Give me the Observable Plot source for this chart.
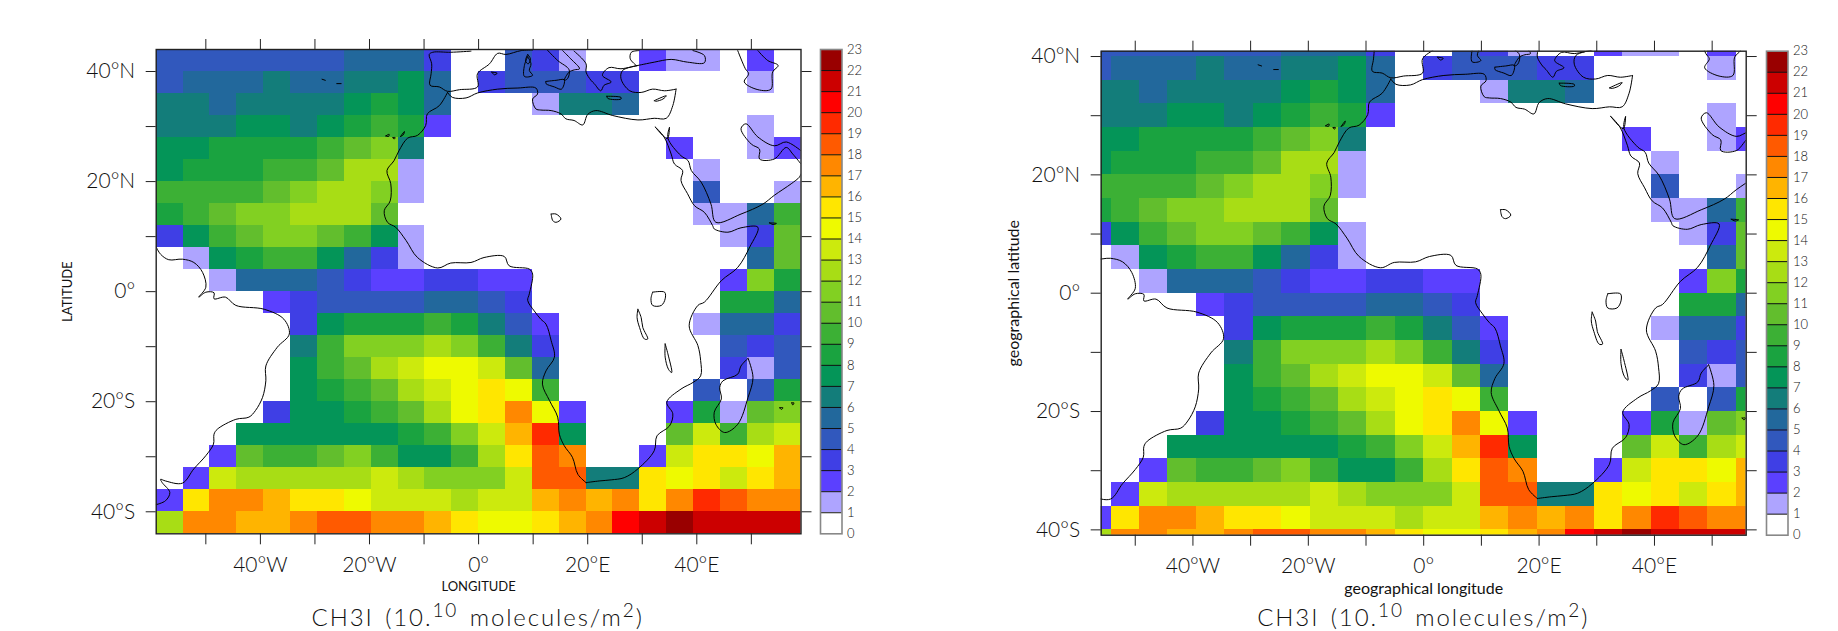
<!DOCTYPE html>
<html><head><meta charset="utf-8">
<script src="https://cdn.jsdelivr.net/npm/d3@7"></script>
<script src="https://cdn.jsdelivr.net/npm/@observablehq/plot@0.6"></script>
<style>
html,body{margin:0;padding:0;background:#fff;overflow:hidden}
#wrap{position:relative;width:1838px;height:631px;overflow:hidden}
#wrap svg{position:absolute;top:0}
.title{position:absolute;top:607px;font:300 24px Lato,sans-serif;color:#111;letter-spacing:1.9px;word-spacing:3px;white-space:nowrap;transform:translateX(-50%);line-height:20px}
.title sup{font-size:19px;line-height:0;vertical-align:9px}
</style></head><body><div id="wrap"></div>
<script>
// Colour band index (lower bound of the legend band) per grid cell, north to south, west to east
const row42N=[4,4,4,4,4,4,4,5,5,5,3,0,0,4,3,1,0,0,2,1,1,0,2,0];
const row38N=[4,5,5,5,6,5,5,6,6,7,5,0,3,4,4,4,3,3,0,0,0,0,1,0];
const row34N=[6,6,5,6,6,6,6,7,8,7,5,0,0,0,1,6,6,5,0,0,0,0,0,0];
const row30N=[6,6,6,7,7,6,7,8,9,8,2,0,0,0,0,0,0,0,0,0,0,0,1,0];
const row26N=[7,7,8,8,8,8,9,10,11,6,0,0,0,0,0,0,0,0,0,2,0,0,1,2];
const row22N=[7,8,8,8,9,9,10,12,12,1,0,0,0,0,0,0,0,0,0,0,1,0,0,0];
const row18N=[9,9,9,9,10,11,12,12,11,1,0,0,0,0,0,0,0,0,0,0,4,0,0,1];
const row14N=[8,9,10,11,11,12,12,12,10,0,0,0,0,0,0,0,0,0,0,0,1,1,5,9];
const row10N=[3,7,9,10,11,11,10,9,7,1,0,0,0,0,0,0,0,0,0,0,0,1,3,10];
const row6N=[0,1,7,8,9,9,7,5,3,1,0,0,0,0,0,0,0,0,0,0,0,0,5,10];
const row2N=[0,0,1,5,5,5,4,3,2,2,3,3,2,2,0,0,0,0,0,0,0,2,11,8];
const row2S=[0,0,0,0,2,3,4,4,4,4,5,5,4,3,0,0,0,0,0,0,0,8,8,5];
const row6S=[0,0,0,0,0,3,7,8,8,8,9,8,6,4,2,0,0,0,0,0,1,5,5,3];
const row10S=[0,0,0,0,0,6,9,11,11,11,12,11,9,6,3,0,0,0,0,0,0,4,3,4];
const row14S=[0,0,0,0,0,7,9,10,12,13,14,14,13,10,5,0,0,0,0,0,0,3,1,4];
const row18S=[0,0,0,0,0,7,8,9,10,12,13,14,15,14,9,0,0,0,0,0,4,0,4,8];
const row22S=[0,0,0,0,3,7,7,8,9,10,12,14,15,17,14,2,0,0,0,2,8,1,10,11];
const row26S=[0,0,0,7,7,7,7,7,7,8,9,11,13,16,19,7,0,0,0,10,13,9,12,13];
const row30S=[0,0,2,10,9,9,10,11,9,7,7,9,12,15,18,17,0,0,2,13,15,15,14,16];
const row34S=[0,2,13,12,12,12,12,12,13,12,11,11,11,13,18,18,6,6,15,14,15,13,15,16];
const row38S=[2,15,17,17,16,15,15,14,13,13,13,12,13,13,16,17,16,17,15,17,19,18,17,17];
const row42S=[12,17,17,16,16,17,18,18,17,17,16,15,14,14,15,16,17,20,21,22,21,21,21,21];
const gridRows=[row42N,row38N,row34N,row30N,row26N,row22N,row18N,row14N,row10N,row6N,row2N,row2S,row6S,row10S,row14S,row18S,row22S,row26S,row30S,row34S,row38S,row42S];

const bandColors=["#ffffff","#aea4ff","#5b40ff","#3f3fe5","#3158bd","#22689c","#137d7a","#049558","#1aa340","#3cb035","#62be2d","#82d022","#a8dd15","#ccea0d","#eefa00","#ffe600","#ffb400","#ff8800","#ff5a00","#ff2a00","#ff0000","#cc0000","#990000"];
const bandLabels=d3.range(0,24);

const lonTicks=[-50,-40,-30,-20,-10,0,10,20,30,40,50];
const latTicks=[-40,-30,-20,-10,0,10,20,30,40];

// Coastlines: [lon, lat]
const africaWest=[[-5.7,36.2],[-7.2,33.8],[-9.4,32.3],[-9.7,30.2],[-11.2,28.4],[-13,27.9],[-14.6,25.6],[-15.5,23.8],[-16.8,22],[-16.1,19.6],[-16.2,16.5],[-17.3,14.7],[-16.7,12.6],[-15.2,11.7],[-13.3,9.3],[-11.2,6.2],[-7.5,4.3],[-5.1,5.2],[-1.4,5.3],[1,6.2],[4.7,6.4],[5.6,4.7],[9.3,4.1],[9.9,3.2],[9.3,-0.4],[9,-1.6],[10.2,-3.5],[11.4,-5],[12.35,-5.9],[13.3,-8.9],[13.9,-11.9],[12.35,-14.4],[11.7,-16.8],[13,-19.8],[14.5,-22.8],[14.8,-25.9],[15.7,-28],[17.2,-30.1],[18.2,-33.2],[19.7,-34.7]];
const africaEast=[[19.7,-34.7],[22.1,-34.4],[24.3,-34.2],[26.7,-33.8],[29.2,-32.2],[32.2,-28.9],[32.7,-26.2],[35,-24.4],[35.6,-22.2],[34.5,-20.1],[37.1,-17.7],[39.3,-16.5],[40.7,-15.3],[40.7,-12.5],[40.2,-9.8],[38.6,-6.2],[40.2,-2.5],[41.4,-1.9],[44.5,2],[47.5,4.4],[49.7,8.1],[51.2,11.7],[48.1,11.6],[45.7,10.8],[43.2,11.4],[42.9,12],[41.4,14.4],[39.6,15.6],[38.3,17.8],[37.1,20.2],[37.4,22],[35.9,23.2],[35.3,25],[34,28.1],[32.4,29.9]];
const sinaiArabia=[[32.4,29.9],[34.6,27.8],[35,29.9],[34.7,27.9],[37.1,24.7],[38.4,23.8],[39,22],[40.8,19.9],[42.6,15.9],[43.5,12.6],[48.1,14.1],[52.1,15.9],[54.2,17.5],[57.3,19.6],[58.8,20.8],[59.1,21.4]];
const persianGulf=[[59.1,23.2],[57.6,25],[56.4,26.2],[54.2,24.1],[51.5,24.1],[51.5,25.9],[50,26.8],[48.1,29.6],[49,30.5],[51.2,28.1],[54.2,26.5],[56.4,27.2],[59.1,25.6]];
const africaNorth=[[36.2,36.8],[35.6,33.8],[34.4,31.5],[32.2,31.5],[29.2,31.2],[24.6,32],[21.5,32.9],[20,32.2],[19.1,30.3],[17.5,31.1],[16,31.4],[15.1,32.3],[13.3,32.9],[11.4,33],[10.5,33.2],[9.9,35],[10.8,35.9],[10.5,37],[7.2,37],[3.5,36.8],[-0.2,36.1],[-2.3,35.2],[-4.8,35.3],[-5.7,36.2]];
const iberia=[[-1.4,43.7],[-5.1,43.5],[-8.4,43.5],[-9.05,43.1],[-8.6,41.4],[-8.7,39.6],[-8.9,37.5],[-7.2,37.2],[-5.7,36.4],[-3.5,36.7],[-0.2,37.2],[-0.2,39.6],[2,41.4],[3.5,43.3],[5,43.1],[7.8,43.8],[9.9,43.9]];
const italy=[[12.6,43.9],[14.5,42],[16.6,40.3],[16.3,38.7],[15.7,38.4],[16.6,39.9],[17.55,40.3],[18.5,40.5],[16.9,42.3],[15.4,43.8]];
const sicily=[[12.35,38.2],[14.2,38.4],[15.7,38.5],[15.2,36.8],[13.9,37.2],[12.35,37.8],[12.35,38.2]];
const sardinia=[[9,42.7],[9.6,41.4],[9.3,40.2],[9.9,39.3],[8.4,39.1],[8.4,41.1],[9,42.7]];
const corsica=[[9,43.1],[9.5,42.3],[9.1,41.4],[8.6,41.9],[9,43.1]];
const balearic=[[2.4,39.9],[3.4,39.7],[2.9,39.4],[2.4,39.9]];
const balkans=[[17.5,43.7],[19.7,41.4],[19.7,39.9],[20.6,38.4],[21.2,37.8],[22.4,36.5],[23,37.5],[24.3,38.1],[22.7,39.3],[23.9,40.7],[26.1,40.5],[29.2,41.1],[26.4,40.2],[26.1,38.7],[27.7,36.5],[29.8,36.2],[31.9,36.8],[34.1,36.5],[36.2,36.8]];
const blackSeaSouth=[[29.2,41.1],[32.2,41.7],[35.3,42.2],[38.3,41.7],[41.4,41.6],[41.4,42.9],[39.3,43.8]];
const blackSeaWest=[[28.9,41.1],[27.8,42.3],[28,43.5],[29.4,43.8]];
const crete=[[23.5,35.5],[26.1,35.3],[26.1,35],[23.7,35.1],[23.5,35.5]];
const cyprus=[[32.2,34.7],[34.4,35.6],[33.8,35],[32.5,34.6],[32.2,34.7]];
const caspian=[[47.5,43.8],[48.9,40.5],[49.5,39.6],[48.7,38.1],[51.2,36.7],[53.6,36.8],[53.9,39.9],[54.9,41.1],[53,42],[51.2,43.8]];
const socotra=[[53.3,12.5],[54.6,12.4],[54,12.2],[53.3,12.5]];
const lakeChad=[[13.3,14.1],[14.2,14.1],[15.1,13.2],[14.2,12.6],[13.6,12.9],[13.3,14.1]];
const lakeVictoria=[[31.9,-0.1],[34.1,-0.1],[34.2,-1.3],[33.5,-2.5],[31.9,-2.5],[31.6,-1.3],[31.9,-0.1]];
const lakeTanganyika=[[29.2,-3.2],[29.8,-4.7],[30.1,-6.5],[31,-8.6],[30.4,-8.6],[29.5,-6.5],[29.05,-4.7],[29.2,-3.2]];
const lakeMalawi=[[34.2,-9.5],[34.7,-11.3],[35.4,-14.7],[34.8,-14.1],[34.2,-11.9],[34.2,-9.5]];
const madagascar=[[49.4,-12.1],[50.3,-15.6],[49.4,-19.2],[47.5,-24.1],[45.1,-25.6],[43.5,-24.1],[43.2,-21.9],[44.5,-19.5],[44.2,-17.4],[44.8,-16.2],[47.5,-15],[48.1,-13.5],[49.4,-12.1]];
const mauritius=[[57.4,-20.2],[57.8,-20.2],[57.6,-20.6],[57.4,-20.2]];
const reunion=[[55.2,-21.1],[55.8,-21.1],[55.5,-21.4],[55.2,-21.1]];
const canary1=[[-17,28.3],[-16.4,28.6],[-16.5,28.2],[-17,28.3]];
const canary2=[[-15.7,28],[-15.3,28],[-15.5,27.7],[-15.7,28]];
const canary3=[[-14.3,28.2],[-13.6,29.1],[-13.8,28.5],[-14.3,28.2]];
const azores1=[[-28.7,38.6],[-28.1,38.4]];
const azores2=[[-26,37.8],[-25.2,37.8]];
const southAmerica=[[-59.1,8.1],[-58.3,6.8],[-56.8,5.8],[-54.3,5.9],[-52.2,5.3],[-50.6,3.5],[-50,0.8],[-51.3,-1],[-50,-0.1],[-48.5,-0.2],[-48.5,-1.3],[-46.4,-1],[-44.5,-2.5],[-39.3,-3.2],[-35.7,-5],[-34.7,-7.7],[-36.9,-10.1],[-39,-13.5],[-39,-16.2],[-39.6,-19.2],[-40.9,-21.6],[-42.1,-22.8],[-44.5,-23.2],[-47.9,-25],[-48.5,-25.9],[-48.6,-27.7],[-50,-29.8],[-52.2,-32.2],[-54.3,-34.8],[-57.4,-34.4],[-58.3,-34.1],[-58,-34.7],[-56.6,-36.5],[-57.4,-38],[-59.1,-38.7]];
const coastlines=[africaWest,africaEast,sinaiArabia,persianGulf,africaNorth,iberia,italy,sicily,sardinia,corsica,balearic,balkans,blackSeaSouth,blackSeaWest,crete,cyprus,caspian,socotra,lakeChad,lakeVictoria,lakeTanganyika,lakeMalawi,madagascar,mauritius,reunion,canary1,canary2,canary3,azores1,azores2,southAmerica];

const gridLonStart=-59.1, gridLonStep=4.925, gridLatStart=44, gridLatStep=4;
const cells=gridRows.flatMap((row,r)=>row.map((v,c)=>({
  x1:gridLonStart+c*gridLonStep,x2:gridLonStart+(c+1)*gridLonStep,
  y1:gridLatStart-(r+1)*gridLatStep,y2:gridLatStart-r*gridLatStep,v})));

const fontFamily="Lato,sans-serif";
const ink="#111";
const lonFmt=d=>d%20!==0?"":d===0?"0°":d<0?`${-d}°W`:`${d}°E`;
const latFmt=d=>d%20!==0?"":d===0?"0°":d<0?`${-d}°S`:`${d}°N`;

function mapPanel(o){
  const svg=Plot.plot({
    width:o.w,height:631,
    marginLeft:o.ml,marginRight:o.mr,marginTop:o.mt,marginBottom:o.mb,
    style:{fontFamily,background:"transparent",overflow:"visible"},
    x:{domain:[-o.lonMax,o.lonMax],axis:null},
    y:{domain:[-o.latMax,o.latMax],axis:null},
    color:{type:"ordinal",domain:d3.range(bandColors.length),range:bandColors},
    marks:[
      Plot.rect(cells,{x1:"x1",x2:"x2",y1:"y1",y2:"y2",fill:"v",clip:true,shapeRendering:"crispEdges",inset:0}),
      ...coastlines.map(l=>Plot.line(l,{x:d=>d[0],y:d=>d[1],stroke:"#000",strokeWidth:1,clip:true,curve:"catmull-rom"})),
      Plot.frame({stroke:"#222",strokeWidth:1.4}),
      Plot.axisX({anchor:"bottom",ticks:lonTicks,tickSize:11,tickPadding:12,tickFormat:lonFmt,fontSize:21,fontWeight:300,fill:ink,stroke:"#222",label:null}),
      Plot.axisX({anchor:"top",ticks:lonTicks,tickSize:11,tickFormat:()=>"",stroke:"#222",label:null}),
      Plot.axisY({anchor:"left",ticks:latTicks,tickSize:10,tickPadding:11,tickFormat:latFmt,fontSize:21,fontWeight:300,fill:ink,stroke:"#222",label:null}),
      Plot.axisY({anchor:"right",ticks:latTicks,tickSize:10,tickFormat:()=>"",stroke:"#222",label:null}),
      Plot.text([o.xLabel],{frameAnchor:"bottom",dy:o.xDy,fontSize:o.labelSize,fontWeight:400,fill:ink,text:d=>d,lineAnchor:"middle"}),
      Plot.text([o.yLabel],{frameAnchor:"left",dx:o.yDx,rotate:-90,textAnchor:"middle",fontSize:o.labelSize,fontWeight:400,fill:ink,text:d=>d})
    ]
  });
  svg.style.left=o.left+"px";
  return svg;
}
function legendBar(o){
  const svg=Plot.plot({
    width:70,height:631,marginLeft:o.ml,marginRight:70-o.ml-21.5,marginTop:o.mt,marginBottom:o.mb,
    style:{fontFamily,background:"transparent"},
    x:{domain:[0,1],axis:null},
    y:{domain:[0,23],axis:null},
    color:{type:"ordinal",domain:d3.range(bandColors.length),range:bandColors},
    marks:[
      Plot.rect(d3.range(bandColors.length),{x1:0,x2:1,y1:d=>d,y2:d=>d+1,fill:d=>d,shapeRendering:"crispEdges"}),
      Plot.ruleY(d3.range(1,23),{stroke:"#111",strokeWidth:1}),
      Plot.frame({stroke:"#888",strokeWidth:1.6}),
      Plot.axisY({anchor:"right",ticks:bandLabels,tickSize:0,tickPadding:5,tickFormat:d=>String(d),fontSize:13,fontWeight:300,fill:ink,label:null})
    ]
  });
  svg.style.left=o.left+"px";
  return svg;
}
const wrap=document.getElementById("wrap");
wrap.append(mapPanel({left:0,w:810,ml:155.7,mr:9.5,mt:49,mb:97.7,lonMax:59.1,latMax:44,xLabel:"LONGITUDE",yLabel:"LATITUDE",xDy:53,yDx:-88,labelSize:13}));
wrap.append(mapPanel({left:950,w:805,ml:150.7,mr:9.3,mt:50.7,mb:96.3,lonMax:55.9,latMax:40.9,xLabel:"geographical longitude",yLabel:"geographical latitude",xDy:54,yDx:-87,labelSize:16}));
wrap.append(legendBar({left:800,ml:20,mt:49,mb:97.7}));
wrap.append(legendBar({left:1746,ml:20,mt:50.7,mb:96.3}));
for(const [x] of [[477.7],[1423.3]]){
  const t=document.createElement("div");t.className="title";t.style.left=x+"px";
  t.innerHTML="CH3I (10.<sup>10</sup> molecules/m<sup>2</sup>)";wrap.append(t);
}
</script></body></html>
